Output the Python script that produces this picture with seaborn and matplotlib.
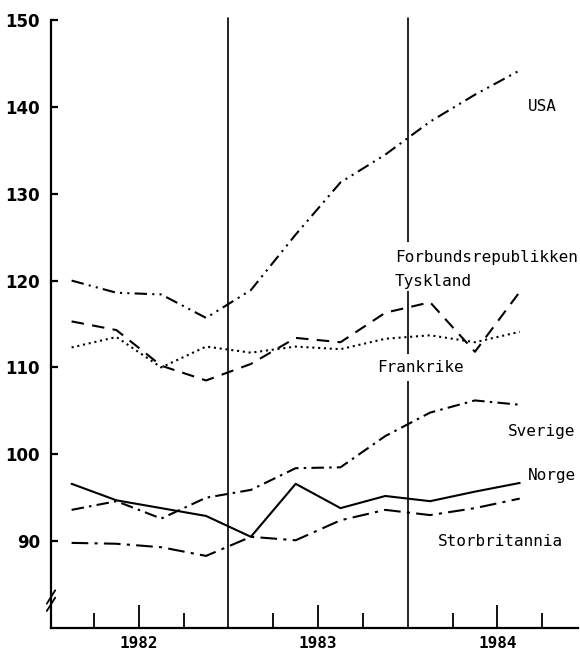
import pandas as pd
import matplotlib
matplotlib.use("Agg")
import matplotlib.pyplot as plt
import seaborn as sns

# kvartalsmidt 1982 K1 - 1984 K3
kvartal = [1982.125, 1982.375, 1982.625, 1982.875,
           1983.125, 1983.375, 1983.625, 1983.875,
           1984.125, 1984.375, 1984.625]

usa = [120.0, 118.6, 118.4, 115.7, 118.9, 125.3, 131.3, 134.5, 138.3, 141.4, 144.2]
tyskland = [115.3, 114.3, 110.2, 108.5, 110.4, 113.4, 112.9, 116.3, 117.5, 111.8, 118.7]
frankrike = [112.3, 113.5, 110.0, 112.4, 111.7, 112.4, 112.1, 113.3, 113.7, 112.9, 114.1]
sverige = [93.6, 94.6, 92.6, 95.0, 95.9, 98.4, 98.5, 102.1, 104.8, 106.2, 105.7]
norge = [96.6, 94.7, 93.8, 92.9, 90.5, 96.6, 93.8, 95.2, 94.6, 95.7, 96.7]
storbritannia = [89.8, 89.7, 89.3, 88.3, 90.5, 90.1, 92.4, 93.6, 93.0, 93.8, 94.9]

aar = [1982, 1983, 1984]
y_ticks = [90, 100, 110, 120, 130, 140, 150]

serier = {
    "USA": usa,
    "Tyskland": tyskland,
    "Frankrike": frankrike,
    "Sverige": sverige,
    "Norge": norge,
    "Storbritannia": storbritannia,
}
rows = []
for land, verdier in serier.items():
    for t, v in zip(kvartal, verdier):
        rows.append({"t": t, "v": v, "land": land})
df = pd.DataFrame(rows)

streker = {
    "USA": (6, 2.5, 1, 2.5, 1, 2.5),
    "Tyskland": (6, 4),
    "Frankrike": (1, 1.8),
    "Sverige": (6, 2.5, 1.2, 2.5),
    "Norge": "",
    "Storbritannia": (8, 3, 1.5, 3),
}

sns.set_style("white")
plt.rcParams["text.color"] = "black"
plt.rcParams["xtick.color"] = "black"
plt.rcParams["ytick.color"] = "black"

fig = plt.figure(figsize=(5.8, 6.55), dpi=100)
ax = fig.add_axes([51 / 580, 27 / 655, 527 / 580, 608 / 655])

sns.lineplot(data=df, x="t", y="v", style="land", dashes=streker,
             color="black", linewidth=1.5, legend=False, ax=ax)

ax.set_xlim(1982.01, 1984.95)
ax.set_ylim(80, 150)

# aarsgrenser
for x in [1983.0, 1984.0]:
    ax.axvline(x, ymin=0, ymax=1.003, color="black", linewidth=1.2, clip_on=False, zorder=1)

for s in ["top", "right"]:
    ax.spines[s].set_visible(False)
for s in ["left", "bottom"]:
    ax.spines[s].set_linewidth(1.6)
    ax.spines[s].set_color("black")

ax.set_yticks(y_ticks)
ax.set_yticklabels([str(v) for v in y_ticks], fontsize=12, fontweight="bold", family="DejaVu Sans")
ax.tick_params(axis="y", direction="in", length=5, width=1.6, pad=8, left=True)

ax.set_xticks([a + 0.5 for a in aar])
ax.set_xticklabels([str(a) for a in aar], fontsize=11.5, fontweight="bold", family="DejaVu Sans Mono")
ax.set_xticks([1982.25, 1982.75, 1983.25, 1983.75, 1984.25, 1984.75], minor=True)
ax.tick_params(axis="x", which="major", direction="in", length=16.5, width=1.3, pad=6, bottom=True)
ax.tick_params(axis="x", which="minor", direction="in", length=10.5, width=1.3, bottom=True)
ax.set_xlabel("")
ax.set_ylabel("")
ax.grid(False)

# brudd i y-aksen
for dy in [0.0, 0.012]:
    ax.plot([-0.008, 0.008], [0.028 + dy, 0.05 + dy], transform=ax.transAxes,
            color="black", linewidth=1.3, clip_on=False)

tekst = dict(fontsize=11.5, family="DejaVu Sans Mono", ha="left", va="center")
boks = dict(facecolor="white", edgecolor="none", pad=1.5)
ax.text(1984.671, 140.0, "USA", **tekst)
ax.text(1983.929, 122.6, "Forbundsrepublikken", bbox=dict(facecolor="white", edgecolor="none", pad=6), **tekst)
ax.text(1983.929, 119.9, "Tyskland", bbox=boks, **tekst)
ax.text(1983.829, 110.0, "Frankrike", bbox=dict(facecolor="white", edgecolor="none", pad=4), **tekst)
ax.text(1984.56, 102.6, "Sverige", **tekst)
ax.text(1984.671, 97.6, "Norge", **tekst)
ax.text(1984.169, 90.0, "Storbritannia", **tekst)

fig.savefig("out.png", dpi=100)
